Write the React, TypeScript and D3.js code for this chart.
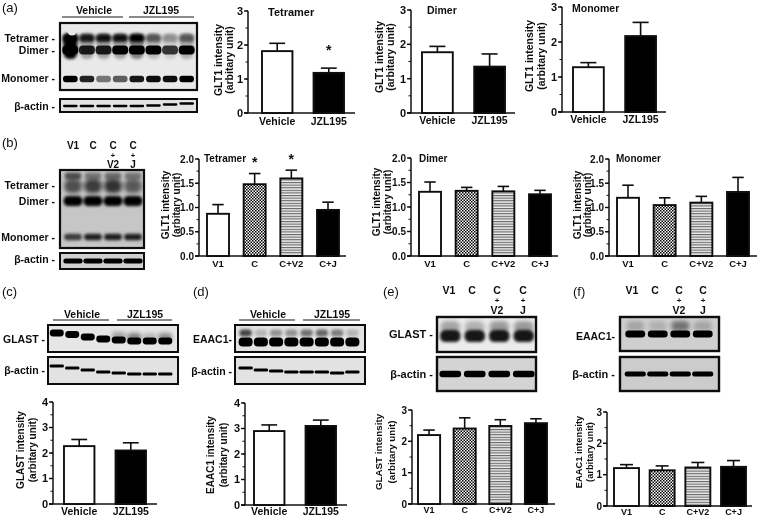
import React from "react";
import * as d3 from "d3";

// ---------- Data ----------
const twoCats = ["Vehicle", "JZL195"];
const fourCats = ["V1", "C", "C+V2", "C+J"];

const tetramerA = [1.82, 1.18];
const tetramerAErr = [2.05, 1.32];
const dimerA = [1.77, 1.35];
const dimerAErr = [1.94, 1.72];
const monomerA = [1.28, 2.17];
const monomerAErr = [1.41, 2.56];

const tetramerB = [0.87, 1.48, 1.6, 0.95];
const tetramerBErr = [1.06, 1.7, 1.77, 1.11];
const dimerB = [1.31, 1.33, 1.32, 1.26];
const dimerBErr = [1.51, 1.4, 1.42, 1.34];
const monomerB = [1.2, 1.05, 1.1, 1.32];
const monomerBErr = [1.46, 1.2, 1.23, 1.62];

const glastC = [2.27, 2.1];
const glastCErr = [2.53, 2.4];
const eaacD = [2.9, 3.1];
const eaacDErr = [3.14, 3.33];
const glastE = [2.2, 2.41, 2.49, 2.58];
const glastEErr = [2.36, 2.75, 2.69, 2.72];
const eaacF = [1.21, 1.14, 1.23, 1.25];
const eaacFErr = [1.32, 1.28, 1.39, 1.45];

// band darkness per lane
const blotATet = [1, 0.85, 0.9, 0.9, 1, 0.55, 0.3, 0.5];
const blotADim = [1, 0.85, 0.85, 1, 1, 1, 0.75, 1];
const blotAMon = [1, 0.85, 0.5, 0.6, 0.9, 0.95, 0.95, 1];
const blotBTet = [0.6, 0.7, 0.75, 0.55];
const blotBDim = [1, 1, 1, 1];
const blotBMon = [0.7, 0.85, 0.85, 0.85];
const blotCMain = [1, 1, 1, 1, 1, 1, 1, 1];
const blotCHaze = [0, 0, 0, 0, 0.3, 0.45, 0.2, 0.4];
const blotDMain = [1, 1, 1, 1, 1, 1, 1, 1];
const blotDHaze = [0.7, 0.2, 0.35, 0.35, 0.5, 0.55, 0.45, 0.2];
const blotEMain = [0.9, 0.9, 0.9, 0.9];
const blotEHaze = [0.3, 0.25, 0.35, 0.35];
const blotFMain = [1, 1, 1, 1];
const blotFHaze = [0.2, 0.15, 0.45, 0.2];
const actin8 = [1, 1, 1, 1, 1, 1, 1, 1];
const actin4 = [1, 1, 1, 1];
// band shift per lane (gel smile)
const shiftActinA = [0, 0, 0, 0, 0, -0.5, -1.5, -2.5];
const shiftMainC = [0, 1.5, 4, 6, 7, 8, 8, 8];
const shiftActinC = [0, 2, 4, 6, 7, 8, 8, 8];
const shiftActinD = [0, 2, 3, 4, 4, 4, 5, 4];
const flat8 = [0, 0, 0, 0, 0, 0, 0, 0];
const flat4 = [0, 0, 0, 0];

const FONT = "'Liberation Sans', Arial, sans-serif";
const INK = "#111";

const fills: Record<string, string> = {
  Vehicle: "#fff",
  JZL195: "#000",
  V1: "#fff",
  C: "url(#check)",
  "C+V2": "url(#stripe)",
  "C+J": "#000",
};

type BarProps = {
  cats: string[];
  values: number[];
  errs: number[];
  ax: number; end: number; top: number; bottom: number;
  x0: number; x1: number; pad: number;
  maxV: number; majors: number; minorEvery: number; fmt?: string;
  ylab: string[]; ylabX: number[]; ylabY: number; ylabSize?: number;
  title?: string; titleX?: number; titleY?: number; titleSize?: number;
  catY: number; catSize: number; tickSize: number;
  stars?: [string, number][];
};

function BarPanel(p: BarProps) {
  const y = d3.scaleLinear().domain([0, p.maxV]).range([p.bottom, p.top]);
  const x = d3.scaleBand().domain(p.cats).range([p.x0, p.x1]).paddingInner(p.pad);
  const majors = d3.range(0, p.maxV + 1e-6, p.majors);
  const minors = d3.range(0, p.maxV + 1e-6, p.minorEvery);
  const fmt = p.fmt ? d3.format(p.fmt) : d3.format("d");
  return (
    <g fontFamily={FONT} fill={INK} fontWeight="bold">
      {p.cats.map((c, i) => {
        const bx = x(c)!;
        const cx = bx + x.bandwidth() / 2;
        const capW = x.bandwidth() * 0.52;
        return (
          <g key={c}>
            <line x1={cx} x2={cx} y1={y(p.values[i])} y2={y(p.errs[i])} stroke={INK} strokeWidth={1.6} />
            <line x1={cx - capW / 2} x2={cx + capW / 2} y1={y(p.errs[i])} y2={y(p.errs[i])} stroke={INK} strokeWidth={1.6} />
            <rect x={bx} y={y(p.values[i])} width={x.bandwidth()} height={p.bottom - y(p.values[i])} fill={fills[c]} stroke={INK} strokeWidth={1.9} />
            <text x={cx} y={p.catY} textAnchor="middle" fontSize={p.catSize}>{c}</text>
          </g>
        );
      })}
      <line x1={p.ax} x2={p.ax} y1={y(p.maxV)} y2={p.bottom} stroke={INK} strokeWidth={1.5} />
      <line x1={p.ax - 4} x2={p.end} y1={p.bottom} y2={p.bottom} stroke={INK} strokeWidth={1.5} />
      {minors.map((t) => (
        <line key={t} x1={p.ax - 2.5} x2={p.ax} y1={y(t)} y2={y(t)} stroke={INK} strokeWidth={1} />
      ))}
      {majors.map((t) => (
        <g key={t}>
          <line x1={p.ax - 4} x2={p.ax} y1={y(t)} y2={y(t)} stroke={INK} strokeWidth={1.4} />
          <text x={p.ax - 5} y={y(t) + p.tickSize * 0.36} textAnchor="end" fontSize={p.tickSize}>{fmt(t)}</text>
        </g>
      ))}
      {p.ylab.map((l, i) => (
        <text key={l} transform={`translate(${p.ylabX[i]},${p.ylabY}) rotate(-90)`} textAnchor="middle" fontSize={p.ylabSize ?? 10.5}>{l}</text>
      ))}
      {p.title && <text x={p.titleX} y={p.titleY} fontSize={p.titleSize ?? 10.5}>{p.title}</text>}
      {p.stars?.map(([c, sy]) => (
        <text key={c} x={x(c)! + x.bandwidth() / 2} y={sy + 6} textAnchor="middle" fontSize={14}>*</text>
      ))}
    </g>
  );
}

type Band = { cy: number; ry: number; rx: number; blur: number; dark: number[]; shift: number[] };
type BlotProps = { id: string; x: number; y: number; w: number; h: number; l0: number; l1: number; bg: string; stroke?: number; bands: Band[]; children?: React.ReactNode };

function Blot(p: BlotProps) {
  const n = p.bands[0].dark.length;
  const lanes = d3.scaleBand<number>().domain(d3.range(n)).range([p.l0, p.l1]);
  const clip = `clip-${p.id}`;
  return (
    <g>
      <clipPath id={clip}><rect x={p.x} y={p.y} width={p.w} height={p.h} /></clipPath>
      <rect x={p.x} y={p.y} width={p.w} height={p.h} fill={p.bg} />
      <g clipPath={`url(#${clip})`}>
        {p.bands.map((b, bi) => (
          <g key={bi} filter={`url(#blur${b.blur})`}>
            {b.dark.map((d, i) => {
              const hw = lanes.bandwidth() * b.rx;
              return (
                <rect key={i}
                  x={lanes(i)! + lanes.bandwidth() / 2 - hw}
                  y={b.cy + b.shift[i] - b.ry}
                  width={hw * 2}
                  height={b.ry * 2}
                  rx={Math.min(b.ry, hw) * 0.9}
                  fill="#000"
                  opacity={d} />
              );
            })}
          </g>
        ))}
        {p.children}
      </g>
      <rect x={p.x} y={p.y} width={p.w} height={p.h} fill="none" stroke="#111" strokeWidth={p.stroke ?? 2} />
    </g>
  );
}

type T = [string, number, number, ("start" | "middle" | "end")?, number?];

const labels: T[] = [
  ["Vehicle", 94, 14, "middle", 10.5], ["JZL195", 161, 14, "middle", 10.5],
  ["Tetramer -", 55, 42, "end", 10.5], ["Dimer -", 55, 54, "end", 10.5], ["Monomer -", 55, 82, "end", 10.5], ["β-actin -", 55, 110, "end", 10.5],
  ["V1", 73, 149, "middle"], ["C", 93, 149, "middle"], ["C", 113, 149, "middle"], ["+", 113, 157.5, "middle", 7.5], ["V2", 113, 168, "middle"],
  ["C", 133, 149, "middle"], ["+", 133, 157.5, "middle", 7.5], ["J", 133, 168, "middle"],
  ["Tetramer -", 55, 189, "end", 10.5], ["Dimer -", 55, 205, "end", 10.5], ["Monomer -", 55, 241, "end", 10.5], ["β-actin -", 55, 263, "end", 10.5],
  ["Vehicle", 82, 318, "middle", 10.5], ["JZL195", 145, 318, "middle", 10.5],
  ["GLAST -", 45, 343, "end", 10.5], ["β-actin -", 45, 374, "end", 10.5],
  ["Vehicle", 268, 318, "middle", 10.5], ["JZL195", 332, 318, "middle", 10.5],
  ["EAAC1-", 232, 343, "end", 10.5], ["β-actin -", 232, 375, "end", 10.5],
  ["V1", 449, 293.5, "middle", 10.5], ["C", 472, 293.5, "middle", 10.5], ["C", 497, 293.5, "middle", 10.5], ["+", 497, 302.5, "middle", 8], ["V2", 497, 313.5, "middle", 10.5],
  ["C", 523, 293.5, "middle", 10.5], ["+", 523, 302.5, "middle", 8], ["J", 523, 313.5, "middle", 10.5],
  ["GLAST -", 433, 338, "end", 11], ["β-actin -", 433, 378, "end", 11],
  ["V1", 632, 293.5, "middle", 10.5], ["C", 655, 293.5, "middle", 10.5], ["C", 679, 293.5, "middle", 10.5], ["+", 679, 302.5, "middle", 8], ["V2", 679, 313.5, "middle", 10.5],
  ["C", 703, 293.5, "middle", 10.5], ["+", 703, 302.5, "middle", 8], ["J", 703, 313.5, "middle", 10.5],
  ["EAAC1-", 615, 340, "end", 10.5], ["β-actin -", 615, 378, "end", 11],
];
const panelLetters: [string, number, number][] = [
  ["(a)", 2, 12], ["(b)", 2, 147], ["(c)", 2, 296], ["(d)", 193, 296], ["(e)", 383, 296], ["(f)", 573, 296],
];
const rules: number[][] = [
  [62, 123, 17], [129, 194, 17], [53, 109, 320], [117, 172, 320], [239, 295, 320], [303, 360, 320],
];

export default function App() {
  return (
    <svg width={760} height={521} viewBox="0 0 760 521" style={{ position: "fixed", left: 0, top: 0, background: "#fff" }}>
      <defs>
        <pattern id="check" width="3" height="3" patternUnits="userSpaceOnUse">
          <rect width="3" height="3" fill="#fff" />
          <rect width="1.5" height="1.5" fill="#000" />
          <rect x="1.5" y="1.5" width="1.5" height="1.5" fill="#000" />
        </pattern>
        <pattern id="stripe" width="3" height="2.6" patternUnits="userSpaceOnUse">
          <rect width="3" height="2.6" fill="#ececec" />
          <rect width="3" height="1.1" fill="#666" />
        </pattern>
        {[1, 2, 3].map((b) => (
          <filter key={b} id={`blur${b}`} x="-20%" y="-60%" width="140%" height="220%">
            <feGaussianBlur stdDeviation={b * 0.75} />
          </filter>
        ))}
        <filter id="soft" x="0" y="0" width="100%" height="100%">
          <feGaussianBlur stdDeviation={0.3} />
        </filter>
      </defs>

      <g filter="url(#soft)">
      {panelLetters.map(([t, x, y]) => (
        <text key={t} x={x} y={y} fontFamily={FONT} fontSize={13} fill={INK}>{t}</text>
      ))}
      {rules.map(([a, b, y], i) => (
        <line key={i} x1={a} x2={b} y1={y} y2={y} stroke={INK} strokeWidth={1.2} />
      ))}
      <g fontFamily={FONT} fontWeight="bold" fill={INK}>
        {labels.map(([t, x, y, a, s], i) => (
          <text key={i} x={x} y={y} textAnchor={a ?? "start"} fontSize={s ?? 10}>{t}</text>
        ))}
      </g>

      {/* Blots */}
      <Blot id="a" x={60} y={23} w={137} h={67} l0={62} l1={195} bg="#e9e9e9" stroke={2.2} bands={[
        { cy: 46, ry: 13, rx: 0.42, blur: 2, dark: [1, 0.3, 0.3, 0.3, 0.45, 0.2, 0.12, 0.25], shift: flat8 },
        { cy: 38, ry: 4, rx: 0.46, blur: 2, dark: blotATet, shift: flat8 },
        { cy: 50, ry: 4.5, rx: 0.48, blur: 1, dark: blotADim, shift: flat8 },
        { cy: 79, ry: 3.2, rx: 0.44, blur: 1, dark: blotAMon, shift: flat8 },
      ]}>
        <circle cx={72} cy={31} r={4.5} fill="#e8e8e8" filter="url(#blur1)" />
      </Blot>
      <Blot id="a2" x={60} y={99} w={137} h={13} l0={62} l1={195} bg="#e2e2e2" bands={[
        { cy: 106, ry: 1.2, rx: 0.44, blur: 1, dark: actin8, shift: shiftActinA },
      ]} />
      <Blot id="b" x={60} y={170} w={84} h={78} l0={63} l1={143} bg="#c6c6c6" stroke={2.2} bands={[
        { cy: 176, ry: 3.5, rx: 0.42, blur: 2, dark: [0.6, 0.4, 0.45, 0.4], shift: flat4 },
        { cy: 186, ry: 7, rx: 0.44, blur: 3, dark: blotBTet, shift: flat4 },
        { cy: 201, ry: 5, rx: 0.47, blur: 2, dark: blotBDim, shift: flat4 },
        { cy: 237, ry: 3.2, rx: 0.44, blur: 2, dark: blotBMon, shift: flat4 },
      ]} />
      <Blot id="b2" x={60} y={253} w={84} h={16} l0={63} l1={143} bg="#d0d0d0" bands={[
        { cy: 261, ry: 2.6, rx: 0.48, blur: 1, dark: actin4, shift: flat4 },
      ]} />
      <Blot id="c" x={48} y={325} w={130} h={27} l0={49} l1={173} bg="#e6e6e6" bands={[
        { cy: 329, ry: 4, rx: 0.44, blur: 3, dark: blotCHaze, shift: shiftMainC },
        { cy: 333, ry: 3.5, rx: 0.45, blur: 1, dark: blotCMain, shift: shiftMainC },
      ]} />
      <Blot id="c2" x={48} y={357} w={130} h={27} l0={49} l1={173} bg="#e2e2e2" bands={[
        { cy: 366, ry: 1.4, rx: 0.46, blur: 1, dark: actin8, shift: shiftActinC },
      ]} />
      <Blot id="d" x={235} y={325} w={130} h={27} l0={238} l1={360} bg="#e2e2e2" bands={[
        { cy: 333, ry: 3.5, rx: 0.4, blur: 2, dark: blotDHaze, shift: flat8 },
        { cy: 342, ry: 4.5, rx: 0.46, blur: 1, dark: blotDMain, shift: flat8 },
      ]} />
      <Blot id="d2" x={235} y={357} w={130} h={27} l0={238} l1={360} bg="#e2e2e2" bands={[
        { cy: 368, ry: 1.6, rx: 0.47, blur: 1, dark: actin8, shift: shiftActinD },
      ]} />
      <Blot id="e" x={437} y={317} w={99} h={35} l0={438} l1={536} bg="#ececec" stroke={2.4} bands={[
        { cy: 327, ry: 6, rx: 0.4, blur: 3, dark: blotEHaze, shift: flat4 },
        { cy: 336, ry: 6, rx: 0.42, blur: 2, dark: blotEMain, shift: flat4 },
      ]} />
      <Blot id="e2" x={437} y={357} w={99} h={34} l0={438} l1={536} bg="#d4d4d4" stroke={2.4} bands={[
        { cy: 374, ry: 3.2, rx: 0.44, blur: 1, dark: actin4, shift: flat4 },
      ]} />
      <Blot id="f" x={620} y={317} w={99} h={34} l0={624} l1={714} bg="#cfcfcf" stroke={2.4} bands={[
        { cy: 326, ry: 5, rx: 0.4, blur: 3, dark: blotFHaze, shift: flat4 },
        { cy: 334, ry: 3.6, rx: 0.44, blur: 1, dark: blotFMain, shift: flat4 },
      ]} />
      <Blot id="f2" x={620} y={357} w={99} h={34} l0={624} l1={714} bg="#cccccc" stroke={2.4} bands={[
        { cy: 374, ry: 2.5, rx: 0.47, blur: 1, dark: actin4, shift: flat4 },
      ]} />

      {/* Bar panels */}
      <BarPanel cats={twoCats} values={tetramerA} errs={tetramerAErr} ax={248} end={355} top={11} bottom={113} x0={262} x1={344} pad={0.41} maxV={3} majors={1} minorEvery={0.5}
        ylab={["GLT1 intensity", "(arbitary unit)"]} ylabX={[222, 233]} ylabY={60} title="Tetramer" titleX={268} titleY={16} titleSize={11}
        catY={125} catSize={10.5} tickSize={11} stars={[["JZL195", 49]]} />
      <BarPanel cats={twoCats} values={dimerA} errs={dimerAErr} ax={411} end={515} top={10} bottom={113} x0={422} x1={505} pad={0.41} maxV={3} majors={1} minorEvery={0.5}
        ylab={["GLT1 intensity", "(arbitary unit)"]} ylabX={[383, 394]} ylabY={57} title="Dimer" titleX={427} titleY={14} titleSize={10.5}
        catY={124} catSize={10.5} tickSize={11} />
      <BarPanel cats={twoCats} values={monomerA} errs={monomerAErr} ax={562} end={666} top={7} bottom={112} x0={573} x1={656} pad={0.41} maxV={3} majors={1} minorEvery={0.5}
        ylab={["GLT1 intensity", "(arbitary unit)"]} ylabX={[533, 545]} ylabY={56} title="Monomer" titleX={572} titleY={12} titleSize={10.5}
        catY={123} catSize={10.5} tickSize={11} />

      <BarPanel cats={fourCats} values={tetramerB} errs={tetramerBErr} ax={199} end={346} top={159} bottom={256} x0={207} x1={339} pad={0.4} maxV={2} majors={0.5} minorEvery={0.25} fmt=".1f"
        ylab={["GLT1 intensity", "(arbitary unit)"]} ylabX={[169, 180]} ylabY={205} ylabSize={10} title="Tetramer" titleX={204} titleY={162} titleSize={10}
        catY={267} catSize={9.5} tickSize={10} stars={[["C", 161], ["C+V2", 158]]} />
      <BarPanel cats={fourCats} values={dimerB} errs={dimerBErr} ax={411} end={558} top={158} bottom={256} x0={419} x1={551} pad={0.4} maxV={2} majors={0.5} minorEvery={0.25} fmt=".1f"
        ylab={["GLT1 intensity", "(arbitary unit)"]} ylabX={[380, 391]} ylabY={202} ylabSize={10} title="Dimer" titleX={419} titleY={162} titleSize={10}
        catY={267} catSize={9.5} tickSize={10} />
      <BarPanel cats={fourCats} values={monomerB} errs={monomerBErr} ax={609} end={757} top={159} bottom={256} x0={617} x1={749} pad={0.4} maxV={2} majors={0.5} minorEvery={0.25} fmt=".1f"
        ylab={["GLT1 intensity", "(arbitary unit)"]} ylabX={[581, 591]} ylabY={205} ylabSize={10} title="Monomer" titleX={616} titleY={162} titleSize={10}
        catY={267} catSize={9.5} tickSize={10} />

      <BarPanel cats={twoCats} values={glastC} errs={glastCErr} ax={53} end={157} top={402} bottom={504} x0={64} x1={146} pad={0.41} maxV={4} majors={1} minorEvery={0.5}
        ylab={["GLAST intensity", "(arbitary unit)"]} ylabX={[24, 36]} ylabY={450} ylabSize={10}
        catY={515} catSize={10.5} tickSize={11} />
      <BarPanel cats={twoCats} values={eaacD} errs={eaacDErr} ax={245} end={347} top={403} bottom={505} x0={254} x1={336} pad={0.41} maxV={4} majors={1} minorEvery={0.5}
        ylab={["EAAC1 intensity", "(arbitary unit)"]} ylabX={[214, 227]} ylabY={455} ylabSize={10}
        catY={515} catSize={10.5} tickSize={11} />
      <BarPanel cats={fourCats} values={glastE} errs={glastEErr} ax={412} end={555} top={410} bottom={504} x0={418} x1={547} pad={0.38} maxV={3} majors={1} minorEvery={0.5}
        ylab={["GLAST intensity", "(arbitary unit)"]} ylabX={[382, 395]} ylabY={452} ylabSize={9.8}
        catY={513} catSize={9} tickSize={10} />
      <BarPanel cats={fourCats} values={eaacF} errs={eaacFErr} ax={607} end={752} top={412} bottom={506} x0={614} x1={746} pad={0.3} maxV={3} majors={1} minorEvery={0.5}
        ylab={["EAAC1 intensity", "(arbitary unit)"]} ylabX={[582, 593]} ylabY={452} ylabSize={9.3}
        catY={515} catSize={9} tickSize={10} />
      </g>
    </svg>
  );
}
